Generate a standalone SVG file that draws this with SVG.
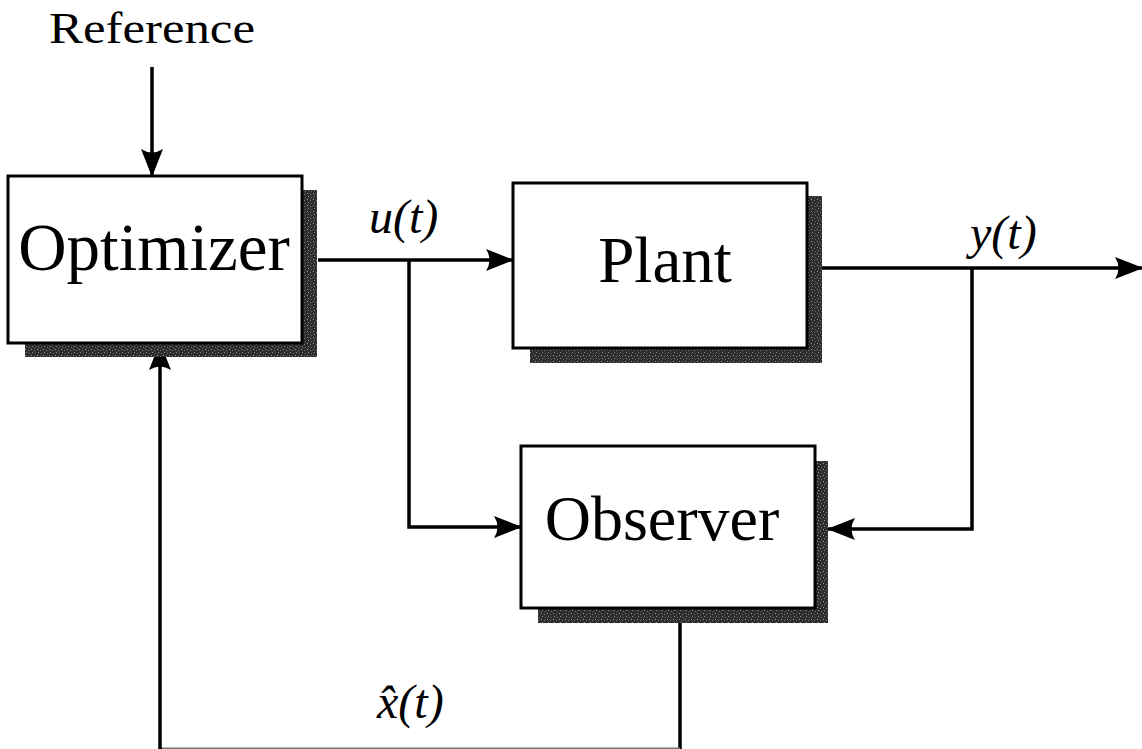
<svg xmlns="http://www.w3.org/2000/svg" width="1142" height="749" viewBox="0 0 1142 749">
  <style>
    .box { fill: #ffffff; stroke: #000000; stroke-width: 3; }
    .shadow { fill: url(#grain); }
    .wire { fill: none; stroke: #000000; stroke-width: 3.5; }
    .title { font-family: "Liberation Serif", "Times New Roman", serif; fill: #000000; }
    .sig { font-family: "Liberation Serif", "Times New Roman", serif; font-style: italic; fill: #000000; font-size: 48px; }
  </style>
  <defs>
    <!-- speckled dark fill for the drop shadows -->
    <pattern id="grain" width="6" height="6" patternUnits="userSpaceOnUse">
      <rect width="6" height="6" fill="#2e2e2e"/>
      <rect x="1" y="1" width="1" height="1" fill="#9a9a9a"/>
      <rect x="4" y="2" width="1" height="1" fill="#7a7a7a"/>
      <rect x="2" y="4" width="1" height="1" fill="#8a8a8a"/>
      <rect x="5" y="5" width="1" height="1" fill="#6a6a6a"/>
    </pattern>
    <marker id="arrow" viewBox="0 0 28 22" refX="27" refY="11" markerWidth="28" markerHeight="22" markerUnits="userSpaceOnUse" orient="auto">
      <path d="M0,0 L28,11 L0,22 Q7,11 0,0 Z" fill="#000000"/>
    </marker>
  </defs>

  <rect width="1142" height="749" fill="#ffffff"/>

  <!-- connectors -->
  <g id="connectors">
    <line class="wire" x1="152" y1="67" x2="152" y2="176" marker-end="url(#arrow)"/>
    <line class="wire" x1="318" y1="260" x2="513" y2="260" marker-end="url(#arrow)"/>
    <polyline class="wire" points="409,260 409,527 521,527" marker-end="url(#arrow)"/>
    <line class="wire" x1="822" y1="268" x2="1142" y2="268" marker-end="url(#arrow)"/>
    <polyline class="wire" points="972,268 972,529 828,529" marker-end="url(#arrow)"/>
    <line class="wire" x1="680" y1="623" x2="680" y2="749"/>
    <line x1="160" y1="748.5" x2="680" y2="748.5" stroke="#777777" stroke-width="2"/>
    <line class="wire" x1="160" y1="749" x2="160" y2="343" marker-end="url(#arrow)"/>
    <text class="sig" x="369" y="233">u(t)</text>
    <text class="sig" x="970" y="249">y(t)</text>
    <text class="sig" x="377" y="718">x̂(t)</text>
  </g>

  <!-- reference input label -->
  <g id="reference">
    <text class="title" x="152" y="43" font-size="44" text-anchor="middle" textLength="206" lengthAdjust="spacingAndGlyphs">Reference</text>
  </g>

  <g id="optimizer">
    <rect class="shadow" x="25" y="190" width="292" height="167"/>
    <rect class="box" x="8" y="176" width="294" height="167"/>
    <text class="title" x="154" y="270" font-size="67" text-anchor="middle">Optimizer</text>
  </g>

  <g id="plant">
    <rect class="shadow" x="530" y="196" width="292" height="167"/>
    <rect class="box" x="513" y="183" width="294" height="165"/>
    <text class="title" x="665" y="282" font-size="65" text-anchor="middle">Plant</text>
  </g>

  <g id="observer">
    <rect class="shadow" x="538" y="461" width="290" height="162"/>
    <rect class="box" x="521" y="446" width="294" height="162"/>
    <text class="title" x="662" y="540" font-size="64" text-anchor="middle">Observer</text>
  </g>
</svg>
